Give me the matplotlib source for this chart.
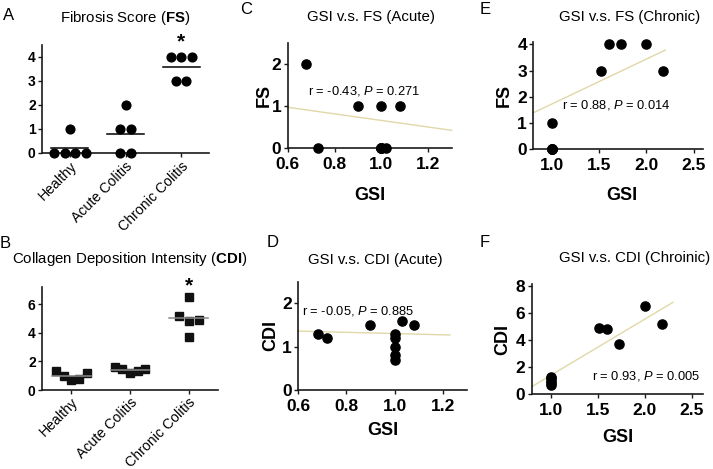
import numpy as np
import matplotlib
matplotlib.use("Agg")
import matplotlib.pyplot as plt

plt.rcParams['font.family'] = ['Liberation Sans', 'DejaVu Sans']
plt.rcParams['mathtext.fontset'] = 'custom'
plt.rcParams['mathtext.rm'] = 'Liberation Sans'
plt.rcParams['mathtext.it'] = 'Liberation Sans:italic'
plt.rcParams['mathtext.bf'] = 'Liberation Sans:bold'

# ---------------- data ----------------
groups = ["Healthy", "Acute Colitis", "Chronic Colitis"]
fs_healthy = [1, 0, 0, 0, 0]
fs_acute = [2, 1, 1, 0, 0]
fs_chronic = [4, 4, 4, 3, 3]
cdi_healthy = [1.3, 1.0, 0.7, 0.8, 1.2]
cdi_acute = [1.6, 1.5, 1.2, 1.3, 1.5]
cdi_chronic = [4.9, 6.5, 4.8, 3.7, 5.2]

gsi_healthy = [1.0, 1.0, 1.0, 1.0, 1.0]
gsi_acute = [0.68, 0.90, 1.08, 0.73, 1.02]      # FS order: 2,1,1,0,0
gsi_acute_cdi = [1.03, 1.08, 0.72, 0.68, 0.90]   # matched to cdi_acute
gsi_chronic = [1.60, 1.73, 2.00, 1.52, 2.18]     # FS order: 4,4,4,3,3
gsi_chronic_cdi = [1.52, 2.00, 1.60, 1.73, 2.18]  # matched to cdi_chronic

# fitted lines as drawn (endpoints)
fitC_x, fitC_y = [0.60, 1.30], [0.97, 0.42]
fitD_x, fitD_y = [0.60, 1.23], [1.36, 1.27]
fitE_x, fitE_y = [0.80, 2.20], [1.39, 3.78]
fitF_x, fitF_y = [0.80, 2.30], [0.56, 6.77]

statC = r"r = -0.43, $\it{P}$ = 0.271"
statD = r"r = -0.05, $\it{P}$ = 0.885"
statE = r"r = 0.88, $\it{P}$ = 0.014"
statF = r"r = 0.93, $\it{P}$ = 0.005"

# ---------------- layout helpers ----------------
W, H = 713, 469
fig = plt.figure(figsize=(W / 100, H / 100), dpi=100)


def rect(l, t, r, b):
    return [l / W, 1 - b / H, (r - l) / W, (b - t) / H]


def ftext(x, y, s, **kw):
    fig.text(x / W, 1 - y / H, s, **kw)


FIT_COLOR = "#e0d8a8"
SPINE = "#1a1a1a"


def style(ax, tick_fs):
    for s in ["top", "right"]:
        ax.spines[s].set_visible(False)
    for s in ["left", "bottom"]:
        ax.spines[s].set_color(SPINE)
        ax.spines[s].set_linewidth(1.2)
    ax.tick_params(axis="both", direction="out", length=3, width=1, color=SPINE,
                   labelsize=tick_fs, pad=1.5)
    for lab in ax.get_yticklabels() + ax.get_xticklabels():
        lab.set_fontweight("bold")


def row_offsets(vals, step):
    vals = np.asarray(vals, float)
    off = np.zeros(len(vals))
    for v in np.unique(vals):
        idx = np.where(vals == v)[0]
        n = len(idx)
        off[idx] = (np.arange(n) - (n - 1) / 2) * step
    return off


def swarm_offsets(vals, step, ythr):
    vals = np.asarray(vals, float)
    order = np.argsort(vals, kind="stable")
    cands = [0, 1, -1, 2, -2, 3, -3]
    placed = []
    off = np.zeros(len(vals))
    for i in order:
        for c in cands:
            ok = all(not (pc == c and abs(vals[i] - pv) < ythr) for pc, pv in placed)
            if ok:
                placed.append((c, vals[i]))
                off[i] = c * step
                break
    return off


def cat_labels(ax):
    for lab in ax.get_xticklabels():
        lab.set_fontweight("normal")
        lab.set_fontsize(10.2)
        lab.set_rotation(45)
        lab.set_ha("right")
        lab.set_rotation_mode("anchor")


# ---------------- Panel A ----------------
axA = fig.add_axes(rect(42, 45, 209, 153))
fs_groups = [fs_healthy, fs_acute, fs_chronic]
for gi, vals in enumerate(fs_groups):
    xs = gi + row_offsets(vals, 0.19)
    axA.plot(xs, vals, "o", color="black", ms=6.3, clip_on=False, zorder=3)
    m = np.mean(vals)
    axA.plot([gi - 0.33, gi + 0.33], [m, m], color="black", lw=1.1, zorder=2)
axA.set_xlim(-0.5, 2.5)
axA.set_ylim(0, 4.5)
axA.set_yticks([0, 1, 2, 3, 4])
axA.set_xticks(range(3))
axA.set_xticklabels(groups)
style(axA, 10)
cat_labels(axA)
axA.text(2, 4.62, "*", ha="center", va="center", fontsize=15, fontweight="bold")

# ---------------- Panel B ----------------
axB = fig.add_axes(rect(42, 287, 218, 390))
cdi_groups = [cdi_healthy, cdi_acute, cdi_chronic]
for gi, vals in enumerate(cdi_groups):
    xs = gi + swarm_offsets(vals, 0.13 if gi < 2 else 0.17, 0.63)
    axB.plot(xs, vals, "s", color="#111111", ms=5.4, clip_on=False, zorder=3)
    m = np.mean(vals)
    axB.plot([gi - 0.33, gi + 0.33], [m, m], color="#8a8a8a", lw=1.1, zorder=4)
axB.set_xlim(-0.5, 2.5)
axB.set_ylim(0, 7.2)
axB.set_yticks([0, 2, 4, 6])
axB.set_xticks(range(3))
axB.set_xticklabels(groups)
style(axB, 10)
cat_labels(axB)
axB.tick_params(axis="x", pad=0.5)
axB.text(2, 7.25, "*", ha="center", va="center", fontsize=15, fontweight="bold")


# ---------------- scatter panels ----------------
def scatter_panel(r, xs, ys, fitx, fity, xlim, ylim, xticks, yticks,
                  stat, stat_xy, ylabel, ylab_x, xlab_px):
    ax = fig.add_axes(rect(*r))
    ax.plot(fitx, fity, color=FIT_COLOR, lw=1.0, zorder=1, clip_on=False)
    ax.plot(xs, ys, "o", color="black", ms=6.6, clip_on=False, zorder=3)
    ax.set_xlim(*xlim)
    ax.set_ylim(*ylim)
    ax.set_xticks(xticks)
    ax.set_xticklabels(["{:.1f}".format(v) for v in xticks])
    ax.set_yticks(yticks)
    style(ax, 12.5)
    ax.tick_params(axis="x", pad=3.5)
    ax.tick_params(axis="y", pad=1.5)
    ax.text(stat_xy[0], stat_xy[1], stat, fontsize=9.3, ha="left", va="center", zorder=5)
    l, t, rr, b = r
    ax.set_ylabel(ylabel, fontsize=13, fontweight="bold")
    ax.yaxis.set_label_coords((ylab_x - l) / (rr - l), 0.5)
    ax.set_xlabel("GSI", fontsize=13, fontweight="bold")
    ax.xaxis.set_label_coords((xlab_px[0] - l) / (rr - l), 1 - (xlab_px[1] - t) / (b - t))
    ax.xaxis.label.set_va("center")
    ax.yaxis.label.set_va("center")
    return ax


# C
scatter_panel((287.7, 43, 451.7, 148),
              gsi_acute + gsi_healthy, fs_acute + fs_healthy,
              fitC_x, fitC_y, (0.6, 1.3), (0, 2.5), [0.6, 0.8, 1.0, 1.2], [0, 1, 2],
              statC, (0.688, 1.36), "FS", 264, (370, 196))
# D
scatter_panel((298.3, 281.7, 466.7, 390),
              gsi_acute_cdi + gsi_healthy, cdi_acute + cdi_healthy,
              fitD_x, fitD_y, (0.6, 1.3), (0, 2.5), [0.6, 0.8, 1.0, 1.2], [0, 1, 2],
              statD, (0.614, 1.82), "CDI", 271, (383, 430))
# E
scatter_panel((533.3, 41.7, 703, 149.3),
              gsi_chronic + gsi_healthy, fs_chronic + fs_healthy,
              fitE_x, fitE_y, (0.8, 2.6), (0, 4.1), [1.0, 1.5, 2.0, 2.5], [0, 1, 2, 3, 4],
              statE, (1.10, 1.69), "FS", 504, (622, 195))
# F
scatter_panel((531.7, 284.3, 703, 394.3),
              gsi_chronic_cdi + gsi_healthy, cdi_chronic + cdi_healthy,
              fitF_x, fitF_y, (0.8, 2.62), (0, 8.1), [1.0, 1.5, 2.0, 2.5], [0, 2, 4, 6, 8],
              statF, (1.437, 1.37), "CDI", 503, (618, 437))

# ---------------- titles and panel letters ----------------
ftext(125, 18, r"Fibrosis Score ($\bf{FS}$)", fontsize=10.8, ha="center", va="center")
ftext(130, 259, r"Collagen Deposition Intensity ($\bf{CDI}$)", fontsize=10.8, ha="center", va="center")
ftext(371, 17, "GSI v.s. FS (Acute)", fontsize=10.8, ha="center", va="center")
ftext(375, 260, "GSI v.s. CDI (Acute)", fontsize=10.8, ha="center", va="center")
ftext(630, 17, "GSI v.s. FS (Chronic)", fontsize=10.8, ha="center", va="center")
ftext(635, 258, "GSI v.s. CDI (Chroinic)", fontsize=10.8, ha="center", va="center")

for ch, x, y in [("A", 3, 15), ("B", 0, 243), ("C", 240, 10), ("D", 267, 242),
                 ("E", 480, 9), ("F", 480, 242)]:
    ftext(x, y, ch, fontsize=12, ha="left", va="center")

fig.savefig("out.png", dpi=100)
